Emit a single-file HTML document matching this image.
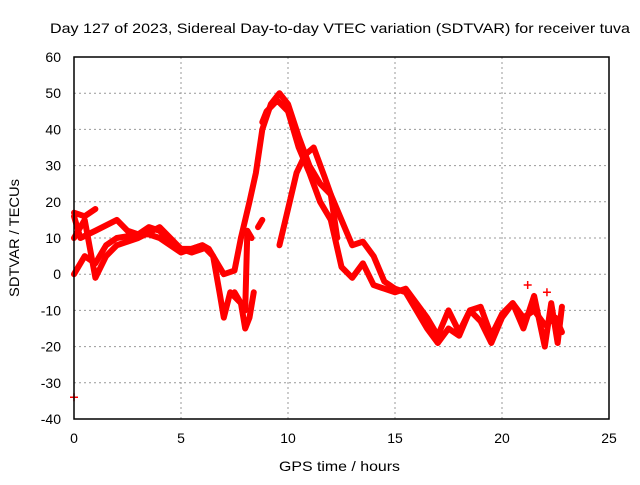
<!DOCTYPE html>
<html><head><meta charset="utf-8"><style>
body{margin:0;background:#fff}
svg text{font-family:"Liberation Sans",sans-serif;font-size:14px;fill:#000}
</style></head><body>
<svg id="c" width="640" height="480">
<rect width="640" height="480" fill="#fff"/>
<text x="50" y="33" textLength="580" lengthAdjust="spacingAndGlyphs">Day 127 of 2023, Sidereal Day-to-day VTEC variation (SDTVAR) for receiver tuva</text>
<text x="279" y="471" textLength="121" lengthAdjust="spacingAndGlyphs">GPS time / hours</text>
<text transform="translate(19,238) rotate(-90)" text-anchor="middle" textLength="118" lengthAdjust="spacingAndGlyphs">SDTVAR / TECUs</text>
<g id="grid"></g><g id="ticks"></g><g id="data"></g>
<rect x="74" y="57" width="535" height="362" fill="none" stroke="#000" stroke-width="1.5"/>
</svg>
<script>
const xTicks=[0,5,10,15,20,25];
const yTicks=[60,50,40,30,20,10,0,-10,-20,-30,-40];
const traceA=[[0,16],[0.3,10],[1,12],[2,15],[2.5,12],[3,11],[3.5,13],[4,12],[4.5,9],[5,7],[5.5,7],[6,8],[6.3,7],[6.7,3],[7,0],[7.5,1],[7.8,10],[8.2,20],[8.5,28],[8.8,40],[9.2,47],[9.6,50],[10,47],[10.5,38],[11,30],[11.5,25],[12,22],[12.5,15],[13,8],[13.5,9],[14,5],[14.5,-2],[15,-4],[15.5,-5],[16,-10],[16.5,-15],[17,-19],[17.5,-15],[18,-17],[18.5,-10],[19,-13],[19.5,-19],[20,-12],[20.5,-8],[21,-12],[21.5,-10],[22,-14],[22.5,-12],[22.8,-16]];
const traceB=[[0,0],[0.5,5],[1,3],[1.5,8],[2,10],[3,11],[3.5,11],[4,10],[4.5,8],[5,6],[6,8],[6.5,5],[6.8,-5],[7,-12],[7.3,-5],[7.8,-8],[8,-15],[8.2,-12],[8.4,-5]];
const traceC=[[0,10],[0.5,15],[1,-1],[1.5,5],[2,8],[3,10],[4,13],[4.5,10],[5,7],[5.5,6],[6,7]];
const traceD=[[8.8,42],[9,45],[9.5,48],[10,45],[10.5,35],[11,28],[11.5,20],[12,15],[12.5,2],[13,-1],[13.5,3],[14,-3],[14.5,-4],[15,-5],[15.5,-4],[16,-8],[16.5,-12],[17,-17],[17.5,-10],[18,-16],[18.5,-10],[19,-9],[19.5,-17],[20,-11],[20.5,-8],[21,-15],[21.5,-6],[22,-20],[22.3,-8],[22.6,-19],[22.8,-9]];
const traceE=[[9.6,8],[10,18],[10.4,28],[10.8,33],[11.2,35],[11.7,27],[12,22],[12.3,10]];
const traceF=[[0,17],[0.5,16],[1,18]];
const traceG=[[7.5,-5],[8,-10],[8.1,12],[8.3,10]];
const traceH=[[8.6,13],[8.8,15]];
const singles=[[0,-34],[21.2,-3],[22.1,-5]];
const traces=[traceA,traceB,traceC,traceD,traceE,traceF,traceG,traceH];
const X=h=>74+h*535/25, Y=v=>57+(60-v)*362/100;
const NS="http://www.w3.org/2000/svg";
const g=document.getElementById('grid'),t=document.getElementById('ticks'),d=document.getElementById('data');
function mk(tag,attrs,parent){const e=document.createElementNS(NS,tag);for(const k in attrs)e.setAttribute(k,attrs[k]);parent.appendChild(e);return e;}
xTicks.forEach(v=>{const x=X(v);
 if(v>0&&v<25){const l=mk('line',{x1:x,x2:x,y1:57,y2:419,stroke:'#999','stroke-dasharray':'2,3'},g);
 
 }
 const tx=mk('text',{x:x,y:443,'text-anchor':'middle'},t);tx.textContent=v;
 
 });
yTicks.forEach(v=>{const y=Y(v);
 if(v<60&&v>-40){const l=mk('line',{x1:74,x2:609,y1:y,y2:y,stroke:'#999','stroke-dasharray':'2,3'},g);
 
 }
 const tx=mk('text',{x:61,y:y+5,'text-anchor':'end'},t);tx.textContent=v;
 
 });
traces.forEach(tr=>{
 const p=mk('polyline',{points:tr.map(q=>X(q[0])+','+Y(q[1])).join(' '),fill:'none',stroke:'#f00','stroke-width':6,'stroke-linejoin':'round','stroke-linecap':'round'},d);
 
 
});
singles.forEach(q=>{const x=X(q[0]),y=Y(q[1]);
 const p=mk('path',{d:`M${x-4},${y}h8M${x},${y-4}v8`,stroke:'#f00','stroke-width':1.5},d);
 
 });
</script>
</body></html>
